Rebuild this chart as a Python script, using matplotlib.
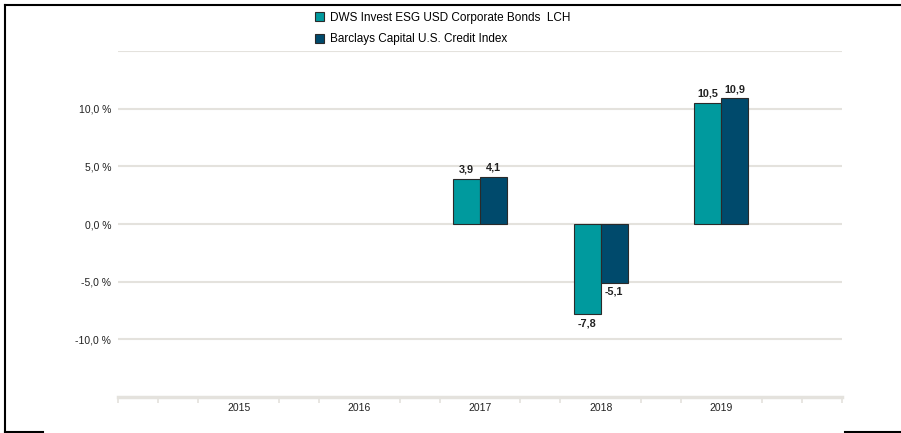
import matplotlib
matplotlib.use("Agg")
import matplotlib.pyplot as plt
from matplotlib.lines import Line2D
from matplotlib.patches import Patch
import numpy as np

plt.rcParams['font.family'] = ['Liberation Sans', 'DejaVu Sans']

years = ["2015", "2016", "2017", "2018", "2019"]
fund = [np.nan, np.nan, 3.9, -7.8, 10.5]
bench = [np.nan, np.nan, 4.1, -5.1, 10.9]
series_names = ["DWS Invest ESG USD Corporate Bonds  LCH", "Barclays Capital U.S. Credit Index"]
yticks = [-10, -5, 0, 5, 10]

c_fund = "#009a9e"
c_bench = "#004a6c"
grid_c = "#e4e2dd"

fig = plt.figure(figsize=(9.01, 4.33), dpi=100)
ax = fig.add_axes([118/901, 36/433, (842-118)/901, (397-51)/433])

x = np.arange(len(years))
w = 0.225
ax.bar(x - w/2, fund, w, color=c_fund, edgecolor="#2a2a2a", linewidth=0.8, zorder=3)
ax.bar(x + w/2, bench, w, color=c_bench, edgecolor="#2a2a2a", linewidth=0.8, zorder=3)

def fmt(v):
    return f"{v:.1f}".replace(".", ",")

for xs, vals in ((x - w/2, fund), (x + w/2, bench)):
    for xi, v in zip(xs, vals):
        if np.isnan(v):
            continue
        if v >= 0:
            ax.annotate(fmt(v), (xi, v), xytext=(0, 3), textcoords="offset points",
                        ha="center", va="bottom", fontsize=7.8, fontweight="bold", color="#222222")
        else:
            ax.annotate(fmt(v), (xi, v), xytext=(0, -3), textcoords="offset points",
                        ha="center", va="top", fontsize=7.8, fontweight="bold", color="#222222")

ax.set_xlim(-1, 5)
ax.set_ylim(-15, 15)

for yv in [-10, -5, 0, 5, 10, 15]:
    ax.axhline(yv, color=grid_c, linewidth=1.5, zorder=1)

ax.set_yticks(yticks)
ax.set_yticklabels([fmt(v) + " %" for v in yticks], fontsize=7.5, color="#222222")
ax.tick_params(axis="y", length=0, pad=5)

ax.set_xticks(x)
ax.set_xticklabels(years, fontsize=7.5, color="#222222")
ax.tick_params(axis="x", length=0, pad=4)
minor = [v for v in np.arange(-1, 5.01, 1/3) if min(abs(v - xi) for xi in x) > 0.05]
ax.set_xticks(minor, minor=True)
ax.tick_params(axis="x", which="minor", length=4, width=1.2, color=grid_c, direction="out")

for s in ["top", "right", "left"]:
    ax.spines[s].set_visible(False)
ax.spines["bottom"].set_color(grid_c)
ax.spines["bottom"].set_linewidth(2.5)

handles = [Patch(facecolor=c_fund, edgecolor="#2a2a2a", linewidth=0.8),
           Patch(facecolor=c_bench, edgecolor="#2a2a2a", linewidth=0.8)]
fig.legend(handles, series_names, loc="upper left", bbox_to_anchor=(310/901, 1 - 7/433),
           frameon=False, fontsize=8.5, handlelength=0.8, handleheight=0.8,
           handletextpad=0.5, labelspacing=0.8, borderaxespad=0)

# figure border lines
def fl(x0, y0, x1, y1, c="black", lw=1.5):
    fig.add_artist(Line2D([x0/901, x1/901], [1 - y0/433, 1 - y1/433], color=c, lw=lw,
                          transform=fig.transFigure))

fl(5, 5, 901, 5)
fl(5, 5, 5, 432)
fl(5, 432, 43, 432)
fl(845, 432, 901, 432)

fig.savefig("out.png", dpi=100)
